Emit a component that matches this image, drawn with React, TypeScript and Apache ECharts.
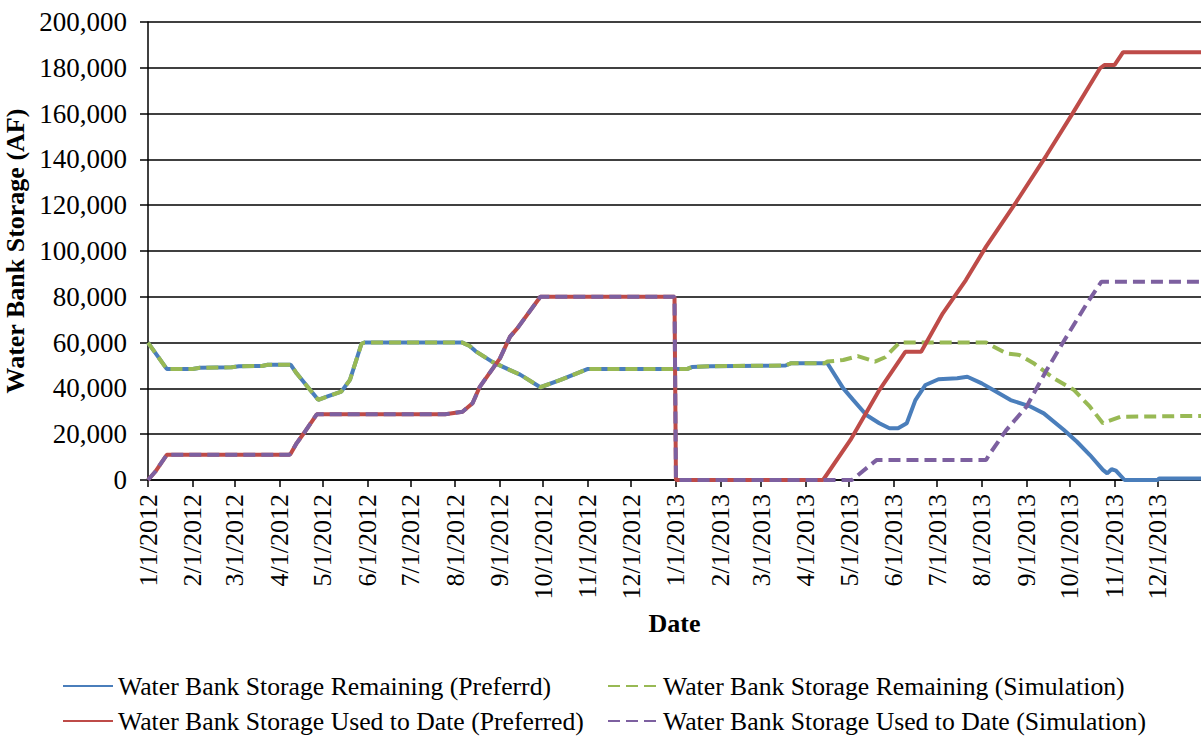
import React, { useEffect, useRef } from "react";
import * as echarts from "echarts";

const BLUE = "#4A7EBB";
const RED = "#BE4B48";
const GREEN = "#98B954";
const PURPLE = "#7D60A0";
const FONT = "Liberation Serif";

const SERIES_NAMES = [
  "Water Bank Storage Remaining (Preferrd)",
  "Water Bank Storage Remaining (Simulation)",
  "Water Bank Storage Used to Date (Preferred)",
  "Water Bank Storage Used to Date (Simulation)",
];

const Y_TICKS = [0, 20000, 40000, 60000, 80000, 100000, 120000, 140000, 160000, 180000, 200000];

// Remaining storage, identical for both runs until mid-April 2013
const remainingShared: [string, number][] = [
  ["1/1/2012", 60000], ["1/14/2012", 48500], ["2/1/2012", 48500], ["2/6/2012", 49000],
  ["2/28/2012", 49200], ["3/4/2012", 49700], ["3/20/2012", 49800], ["3/24/2012", 50300],
  ["4/9/2012", 50300], ["4/13/2012", 46600], ["4/28/2012", 35000], ["5/4/2012", 36400],
  ["5/14/2012", 38600], ["5/20/2012", 43700], ["5/28/2012", 59500], ["5/30/2012", 60000],
  ["8/6/2012", 60000], ["8/11/2012", 58500], ["8/15/2012", 56300], ["8/27/2012", 51500],
  ["9/8/2012", 48000], ["9/15/2012", 46000], ["9/29/2012", 40500], ["10/13/2012", 43700],
  ["11/1/2012", 48500], ["1/9/2013", 48500], ["1/12/2013", 49300], ["1/25/2013", 49700],
  ["3/18/2013", 50000], ["3/22/2013", 51000], ["4/14/2013", 51000],
];

const remainingPreferredTail: [string, number][] = [
  ["4/16/2013", 51000], ["4/27/2013", 40000], ["5/4/2013", 34900], ["5/13/2013", 28400],
  ["5/22/2013", 24800], ["5/29/2013", 22600], ["6/4/2013", 22600], ["6/10/2013", 24800],
  ["6/16/2013", 34900], ["6/23/2013", 41500], ["7/2/2013", 44000], ["7/15/2013", 44400],
  ["7/22/2013", 45100], ["8/1/2013", 42200], ["8/9/2013", 39300], ["8/21/2013", 34900],
  ["9/4/2013", 32000], ["9/13/2013", 29100], ["9/27/2013", 21800], ["10/6/2013", 16700],
  ["10/15/2013", 10900], ["10/24/2013", 4400], ["10/27/2013", 2900], ["10/30/2013", 4700],
  ["11/2/2013", 4100], ["11/8/2013", 0], ["12/1/2013", 0], ["12/2/2013", 700],
  ["12/31/2013", 700],
];

const remainingSimulationTail: [string, number][] = [
  ["4/16/2013", 51700], ["4/27/2013", 52400], ["5/7/2013", 54100], ["5/19/2013", 51700],
  ["5/26/2013", 53600], ["6/5/2013", 60000], ["8/4/2013", 60000], ["8/18/2013", 55300],
  ["8/27/2013", 54600], ["9/6/2013", 51000], ["9/20/2013", 44400], ["10/4/2013", 39300],
  ["10/15/2013", 32000], ["10/24/2013", 24800], ["11/5/2013", 27600], ["12/31/2013", 28000],
];

// Used to date, identical for both runs through 2012
const usedShared: [string, number][] = [
  ["1/1/2012", 0], ["1/6/2012", 3600], ["1/14/2012", 11000], ["4/8/2012", 11000],
  ["4/9/2012", 11600], ["4/13/2012", 16000], ["4/18/2012", 20400], ["4/27/2012", 28700],
  ["7/25/2012", 28700], ["8/6/2012", 29800], ["8/13/2012", 33500], ["8/18/2012", 40700],
  ["9/1/2012", 53100], ["9/8/2012", 62600], ["9/13/2012", 66200], ["9/29/2012", 80000],
  ["12/31/2012", 80000], ["1/1/2013", 0],
];

const usedPreferredTail: [string, number][] = [
  ["4/13/2013", 0], ["5/2/2013", 17500], ["5/22/2013", 39300], ["6/9/2013", 56000],
  ["6/20/2013", 56000], ["7/5/2013", 72800], ["7/21/2013", 87300], ["8/4/2013", 101900],
  ["8/25/2013", 121500], ["9/15/2013", 141900], ["10/3/2013", 160100], ["10/22/2013", 179800],
  ["10/25/2013", 181200], ["11/1/2013", 181200], ["11/7/2013", 186800], ["12/31/2013", 186800],
];

const usedSimulationTail: [string, number][] = [
  ["5/3/2013", 0], ["5/20/2013", 8700], ["8/4/2013", 8700], ["8/6/2013", 10900],
  ["8/18/2013", 21800], ["9/1/2013", 32000], ["9/15/2013", 48000], ["9/26/2013", 59700],
  ["10/13/2013", 77200], ["10/23/2013", 86600], ["12/31/2013", 86600],
];

function buildDays(): string[] {
  const out: string[] = [];
  const start = Date.UTC(2012, 0, 1);
  for (let i = 0; i <= 730; i++) {
    const d = new Date(start + i * 86400000);
    out.push(`${d.getUTCMonth() + 1}/${d.getUTCDate()}/${d.getUTCFullYear()}`);
  }
  return out;
}

const isMonthStart = (_i: number, v: string) => v.split("/")[1] === "1";

export default function App() {
  const ref = useRef<HTMLDivElement>(null);
  useEffect(() => {
    if (!ref.current) return;
    const chart = echarts.init(ref.current, null, { renderer: "svg" });
    const days = buildDays();
    const mk = (name: string, color: string, data: [string, number][], dashed: boolean, z: number) => ({
      name,
      type: "line",
      data,
      symbol: "none",
      showSymbol: false,
      z,
      lineStyle: { color, width: 4, type: dashed ? [12, 6] : "solid" },
      itemStyle: { color },
    });
    const legendText = { fontFamily: FONT, fontSize: 25.7, color: "#000" };
    const legendAt = (name: string, left: number, top: number) => ({
      show: true,
      left,
      top,
      itemWidth: 50,
      itemHeight: 14,
      itemGap: 0,
      padding: 0,
      data: [name],
      textStyle: legendText,
      itemStyle: { opacity: 0 },
      selectedMode: false,
    });
    chart.setOption({
      animation: false,
      backgroundColor: "#fff",
      grid: { left: 148, top: 22, right: 0, bottom: 257, containLabel: false, outerBoundsMode: "none" },
      xAxis: {
        type: "category",
        data: days,
        boundaryGap: false,
        name: "Date",
        nameLocation: "middle",
        nameGap: 130,
        nameTextStyle: { fontFamily: FONT, fontSize: 26, fontWeight: "bold", color: "#000" },
        axisLine: { lineStyle: { color: "#000", width: 1.5 } },
        axisTick: { show: true, interval: isMonthStart, length: 7, lineStyle: { color: "#000", width: 1.5 } },
        axisLabel: {
          interval: isMonthStart,
          rotate: 90,
          margin: 14,
          fontFamily: FONT,
          fontSize: 26,
          color: "#000",
          hideOverlap: false,
        },
        splitLine: { show: false },
      },
      yAxis: {
        type: "value",
        min: Y_TICKS[0],
        max: Y_TICKS[Y_TICKS.length - 1],
        interval: Y_TICKS[1] - Y_TICKS[0],
        name: "Water Bank Storage (AF)",
        nameLocation: "middle",
        nameGap: 117,
        nameTextStyle: { fontFamily: FONT, fontSize: 26, fontWeight: "bold", color: "#000" },
        axisLine: { show: true, lineStyle: { color: "#000", width: 1.5 } },
        axisTick: { show: true, length: 8, lineStyle: { color: "#000", width: 1.5 } },
        axisLabel: {
          margin: 21,
          fontFamily: FONT,
          fontSize: 27,
          color: "#000",
          formatter: (v: number) => v.toLocaleString("en-US"),
        },
        splitLine: { show: true, lineStyle: { color: "#000", width: 1.5 } },
      },
      legend: [
        legendAt(SERIES_NAMES[0], 62, 673),
        legendAt(SERIES_NAMES[2], 62, 708),
        legendAt(SERIES_NAMES[1], 607, 673),
        legendAt(SERIES_NAMES[3], 607, 708),
      ],
      series: [
        mk(SERIES_NAMES[0], BLUE, [...remainingShared, ...remainingPreferredTail], false, 2),
        mk(SERIES_NAMES[1], GREEN, [...remainingShared, ...remainingSimulationTail], true, 3),
        mk(SERIES_NAMES[2], RED, [...usedShared, ...usedPreferredTail], false, 4),
        mk(SERIES_NAMES[3], PURPLE, [...usedShared, ...usedSimulationTail], true, 5),
      ],
    });
    return () => chart.dispose();
  }, []);
  return (
    <div
      ref={ref}
      style={{ position: "fixed", left: 0, top: 0, width: 1201, height: 737, background: "#fff" }}
    />
  );
}
